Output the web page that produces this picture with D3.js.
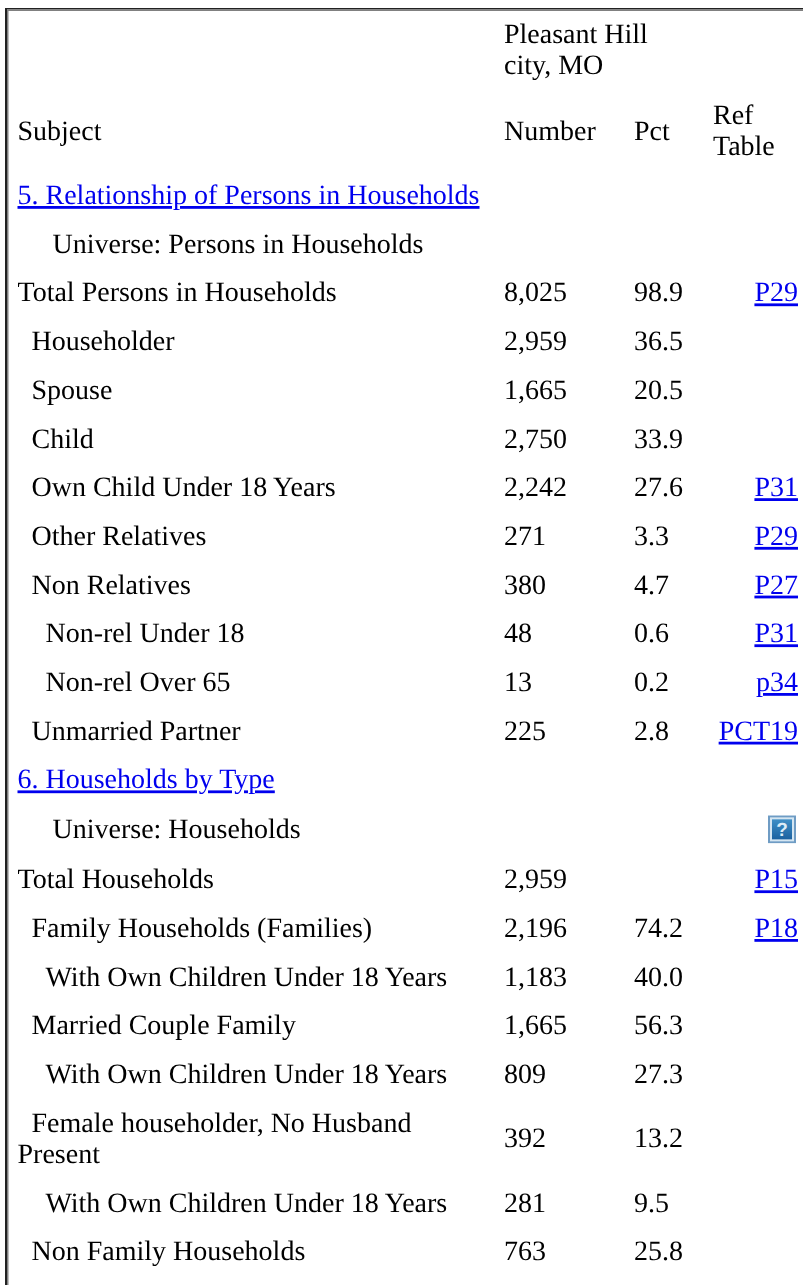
<!DOCTYPE html>
<html>
<head>
<meta charset="utf-8">
<script src="https://cdn.jsdelivr.net/npm/d3@7"></script>
<style>
html, body { margin: 0; padding: 0; background: #fff; overflow: hidden; }
svg { filter: blur(0.45px); }
svg text { font-family: "Liberation Serif", serif; font-size: 28px; fill: #000; text-rendering: geometricPrecision; }
svg text.link { fill: #0000ee; text-decoration: underline; }
</style>
</head>
<body>
<div id="chart"></div>
<script>
// Table content, one entry per row
var subjects = ["5. Relationship of Persons in Households", "Universe: Persons in Households", "Total Persons in Households", "Householder", "Spouse", "Child", "Own Child Under 18 Years", "Other Relatives", "Non Relatives", "Non-rel Under 18", "Non-rel Over 65", "Unmarried Partner", "6. Households by Type", "Universe: Households", "Total Households", "Family Households (Families)", "With Own Children Under 18 Years", "Married Couple Family", "With Own Children Under 18 Years", "Female householder, No Husband|Present", "With Own Children Under 18 Years", "Non Family Households"];
var indents = [0, 5, 0, 2, 2, 2, 2, 2, 2, 4, 4, 2, 0, 5, 0, 2, 4, 2, 4, 2, 4, 2];
var numbers = ["", "", "8,025", "2,959", "1,665", "2,750", "2,242", "271", "380", "48", "13", "225", "", "", "2,959", "2,196", "1,183", "1,665", "809", "392", "281", "763"];
var pcts = ["", "", "98.9", "36.5", "20.5", "33.9", "27.6", "3.3", "4.7", "0.6", "0.2", "2.8", "", "", "", "74.2", "40.0", "56.3", "27.3", "13.2", "9.5", "25.8"];
var refs = ["", "", "P29", "", "", "", "P31", "P29", "P27", "P31", "p34", "PCT19", "", "?", "P15", "P18", "", "", "", "", "", ""];
var sectionRows = [0, 12];

var width = 803, height = 1285;
var rowStep = 48.7, rowTop = 204, lineHeight = 31;

var svg = d3.select("#chart")
  .append("svg")
    .attr("width", width)
    .attr("height", height)
    .style("display", "block");

var defs = svg.append("defs");
var grad = defs.append("linearGradient").attr("id", "helpFill")
    .attr("x1", 0).attr("y1", 0).attr("x2", 0).attr("y2", 1);
grad.append("stop").attr("offset", 0).attr("stop-color", "#3f8fc6");
grad.append("stop").attr("offset", 1).attr("stop-color", "#1c62a0");

// Inset frame on the top and left
svg.append("rect").attr("x", 5).attr("y", 8).attr("width", 798).attr("height", 1.5).attr("fill", "#222");
svg.append("rect").attr("x", 7).attr("y", 9.5).attr("width", 796).attr("height", 1.5).attr("fill", "#808080");
svg.append("rect").attr("x", 5).attr("y", 8).attr("width", 2).attr("height", 1277).attr("fill", "#222");
svg.append("rect").attr("x", 7).attr("y", 9.5).attr("width", 1.5).attr("height", 1276).attr("fill", "#808080");

var colX = {subject: 17.5, number: 504, pct: 634, ref: 713, refEnd: 798};

// Header
function headerText(t, x, y) {
  svg.append("text").attr("x", x).attr("y", y).text(t);
}
headerText("Pleasant Hill", colX.number, 43);
headerText("city, MO", colX.number, 74);
headerText("Subject", colX.subject, 140);
headerText("Number", colX.number, 140);
headerText("Pct", colX.pct, 140);
headerText("Ref", colX.ref, 124);
headerText("Table", colX.ref, 155);

// Row baselines. The icon row is a bit taller and the wrapped row takes one
// extra line, so the rows after them move down
var wrapIndex = subjects.findIndex(function(d) { return d.indexOf("|") >= 0; });
var iconIndex = refs.indexOf("?");
var y = d3.scaleLinear().domain([0, subjects.length - 1])
  .range([rowTop, rowTop + rowStep * (subjects.length - 1)]);
function rowY(i) {
  var pos = y(i);
  if (i === iconIndex) pos += 1.25;
  if (i > iconIndex) pos += 2.5;
  if (i > wrapIndex) pos += lineHeight;
  return pos;
}

var rows = svg.selectAll("g.row")
  .data(subjects)
  .enter().append("g")
    .attr("class", "row")
    .attr("transform", function(d, i) { return "translate(0," + rowY(i) + ")"; });

rows.each(function(d, i) {
  var g = d3.select(this);
  var lines = d.split("|");
  var pad = "\u00a0".repeat(indents[i]);
  var midShift = (lines.length - 1) * lineHeight / 2;
  lines.forEach(function(line, k) {
    var t = g.append("text")
      .attr("x", colX.subject)
      .attr("y", k * lineHeight)
      .text((k === 0 ? pad : "") + line);
    if (sectionRows.indexOf(i) >= 0) t.attr("class", "link");
  });
  if (numbers[i]) g.append("text").attr("x", colX.number).attr("y", midShift).text(numbers[i]);
  if (pcts[i]) g.append("text").attr("x", colX.pct).attr("y", midShift).text(pcts[i]);
  if (refs[i] === "?") {
    // Help icon
    var icon = g.append("g").attr("transform", "translate(768,-23)");
    icon.append("rect").attr("width", 28).attr("height", 28).attr("fill", "#6f9cc4");
    icon.append("rect").attr("x", 2).attr("y", 2).attr("width", 24).attr("height", 24).attr("fill", "#d5e6f2");
    icon.append("rect").attr("x", 4).attr("y", 4).attr("width", 20).attr("height", 20).attr("fill", "url(#helpFill)");
    icon.append("text").attr("x", 14).attr("y", 21).attr("text-anchor", "middle")
      .style("font-family", "'Liberation Sans', sans-serif").style("font-weight", "bold")
      .style("font-size", "19px").style("fill", "#dcecf7").text("?");
  } else if (refs[i]) {
    g.append("text").attr("class", "link").attr("x", colX.refEnd).attr("text-anchor", "end").text(refs[i]);
  }
});
</script>
</body>
</html>
